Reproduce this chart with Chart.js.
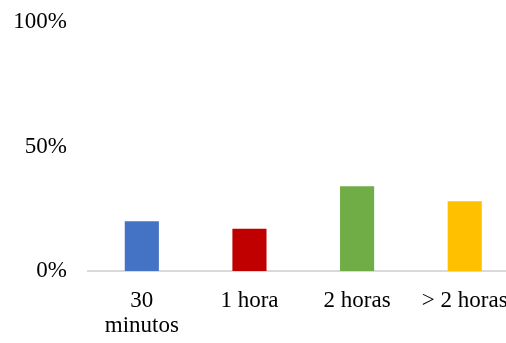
<!DOCTYPE html>
<html>
<head>
<meta charset="utf-8">
<script src="https://cdn.jsdelivr.net/npm/chart.js@4/dist/chart.umd.min.js"></script>
<style>
  html, body { margin: 0; padding: 0; background: #fff; overflow: hidden; width: 506px; height: 343px; }
  #chart { display: block; }
</style>
</head>
<body>
<canvas id="chart" width="525" height="343"></canvas>
<script>
// Tempo dedicado por resposta
const categories = [['30', 'minutos'], '1 hora', '2 horas', '> 2 horas'];
const values = [20, 17, 34, 28];
const barColors = ['#4472c4', '#c00000', '#70ad47', '#ffc000'];
const yTicks = [0, 50, 100];

const serif = '"Liberation Serif", "Times New Roman", serif';

new Chart(document.getElementById('chart'), {
  type: 'bar',
  data: {
    labels: categories,
    datasets: [{
      data: values,
      backgroundColor: barColors,
      borderWidth: 0,
      barPercentage: 0.317,
      categoryPercentage: 1
    }]
  },
  options: {
    responsive: false,
    animation: false,
    layout: { padding: { top: 22, right: 3, left: 0, bottom: 0 } },
    plugins: { legend: { display: false }, tooltip: { enabled: false } },
    scales: {
      x: {
        afterFit: (axis) => { axis.height = 72; },
        grid: { display: false, drawTicks: false },
        border: { display: true, color: '#d9d9d9', width: 2 },
        ticks: {
          color: '#000',
          padding: 17,
          maxRotation: 0,
          autoSkip: false,
          font: { family: serif, size: 23, lineHeight: 1.1 }
        }
      },
      y: {
        min: 0,
        max: 100,
        afterBuildTicks: (axis) => { axis.ticks = yTicks.map(v => ({ value: v })); },
        afterFit: (axis) => {
          axis.width = 88;
          axis.paddingTop = 0;
          axis.paddingBottom = 0;
        },
        grid: { display: false, drawTicks: false },
        border: { display: false },
        ticks: {
          color: '#000',
          padding: 21,
          callback: (v) => v + '%',
          font: { family: serif, size: 23 }
        }
      }
    }
  }
});
</script>
</body>
</html>
